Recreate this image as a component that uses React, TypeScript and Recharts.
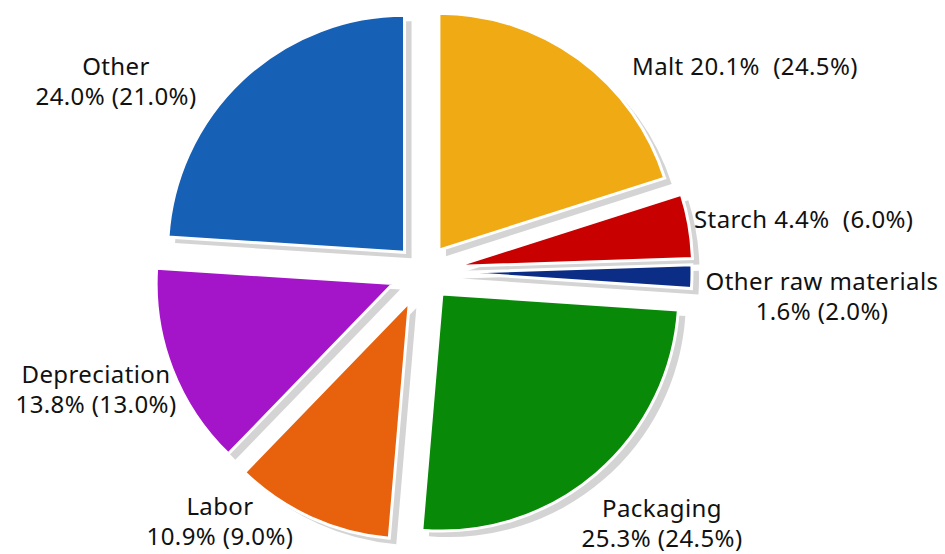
import { PieChart, Pie, Cell } from 'recharts';

const categories = ['Malt', 'Starch', 'Other raw materials', 'Packaging', 'Labor', 'Depreciation', 'Other'];
const shares = [20.1, 4.4, 1.6, 25.3, 10.9, 13.8, 24.0];
const prevShares = [24.5, 6.0, 2.0, 24.5, 9.0, 13.0, 21.0];
const colors = ['#f0aa14', '#c80000', '#0b2d85', '#088a08', '#e8620e', '#a414c8', '#1660b5'];

const data = categories.map((name, i) => ({ name, value: shares[i], prev: prevShares[i] }));

// layout
const W = 945;
const H = 554;
const CX = 423;
const CY = 272;
const R = 237;
const explode = [27, 33, 32, 29, 33, 32, 27];
const shadowDx = 7;
const shadowDy = 6;

// label placement relative to the pie centre
const labelLayout = [
  { dx: 209, dy: -197, anchor: 'start', wrap: false },
  { dx: 271, dy: -44, anchor: 'start', wrap: false },
  { dx: 399, dy: 18, anchor: 'middle', wrap: true },
  { dx: 239, dy: 245, anchor: 'middle', wrap: true },
  { dx: -203, dy: 243, anchor: 'middle', wrap: true },
  { dx: -327, dy: 111, anchor: 'middle', wrap: true },
  { dx: -307, dy: -197, anchor: 'middle', wrap: true },
];

const total = shares.reduce((a, b) => a + b, 0);
const midAngles = shares.map((v, i) => {
  const before = shares.slice(0, i).reduce((a, b) => a + b, 0);
  return 90 - ((before + v / 2) / total) * 360;
});

const offsetOf = (i: number) => {
  const rad = (midAngles[i] * Math.PI) / 180;
  return { x: explode[i] * Math.cos(rad), y: -explode[i] * Math.sin(rad) };
};

const renderLabel = (props: any) => {
  const { cx, cy, index } = props;
  const l = labelLayout[index];
  const d = data[index];
  const x = cx + l.dx;
  const y = cy + l.dy;
  const vals = `${d.value.toFixed(1)}% (${d.prev.toFixed(1)}%)`;
  const common = {
    x,
    textAnchor: l.anchor as any,
    fontFamily: '"Noto Sans", sans-serif',
    fontSize: 24,
    letterSpacing: 0.4,
    fill: '#111',
    style: { whiteSpace: 'pre' as const },
  };
  if (!l.wrap) {
    return (
      <text key={`lbl-${index}`} y={y} {...common}>
        {`${d.name} ${d.value.toFixed(1)}%  (${d.prev.toFixed(1)}%)`}
      </text>
    );
  }
  return (
    <text key={`lbl-${index}`} y={y} {...common}>
      <tspan x={x} y={y}>{d.name}</tspan>
      <tspan x={x} y={y + 30}>{vals}</tspan>
    </text>
  );
};

export default function App() {
  return (
    <div style={{ position: 'absolute', left: 0, top: 0, width: W, height: H, background: '#fff' }}>
      <PieChart width={W} height={H} margin={{ top: 0, right: 0, bottom: 0, left: 0 }}>
        {/* shadows */}
        {data.map((_, i) => {
          const o = offsetOf(i);
          return (
            <Pie
              key={`shadow-${i}`}
              data={data}
              dataKey="value"
              cx={CX + o.x + shadowDx}
              cy={CY + o.y + shadowDy}
              outerRadius={R}
              startAngle={90}
              endAngle={-270}
              isAnimationActive={false}
              labelLine={false}
            >
              {data.map((__, j) => (
                <Cell key={j} fill={j === i ? '#d4d4d4' : 'none'} stroke="none" />
              ))}
            </Pie>
          );
        })}
        {/* exploded slices */}
        {data.map((_, i) => {
          const o = offsetOf(i);
          return (
            <Pie
              key={`slice-${i}`}
              data={data}
              dataKey="value"
              cx={CX + o.x}
              cy={CY + o.y}
              outerRadius={R}
              startAngle={90}
              endAngle={-270}
              isAnimationActive={false}
              labelLine={false}
            >
              {data.map((__, j) => (
                <Cell
                  key={j}
                  fill={j === i ? colors[i] : 'none'}
                  stroke={j === i ? '#ffffff' : 'none'}
                  strokeWidth={3}
                />
              ))}
            </Pie>
          );
        })}
        {/* labels */}
        <Pie
          data={data}
          dataKey="value"
          cx={CX}
          cy={CY}
          outerRadius={R}
          startAngle={90}
          endAngle={-270}
          isAnimationActive={false}
          labelLine={false}
          label={renderLabel}
        >
          {data.map((__, j) => (
            <Cell key={j} fill="none" stroke="none" />
          ))}
        </Pie>
      </PieChart>
    </div>
  );
}
